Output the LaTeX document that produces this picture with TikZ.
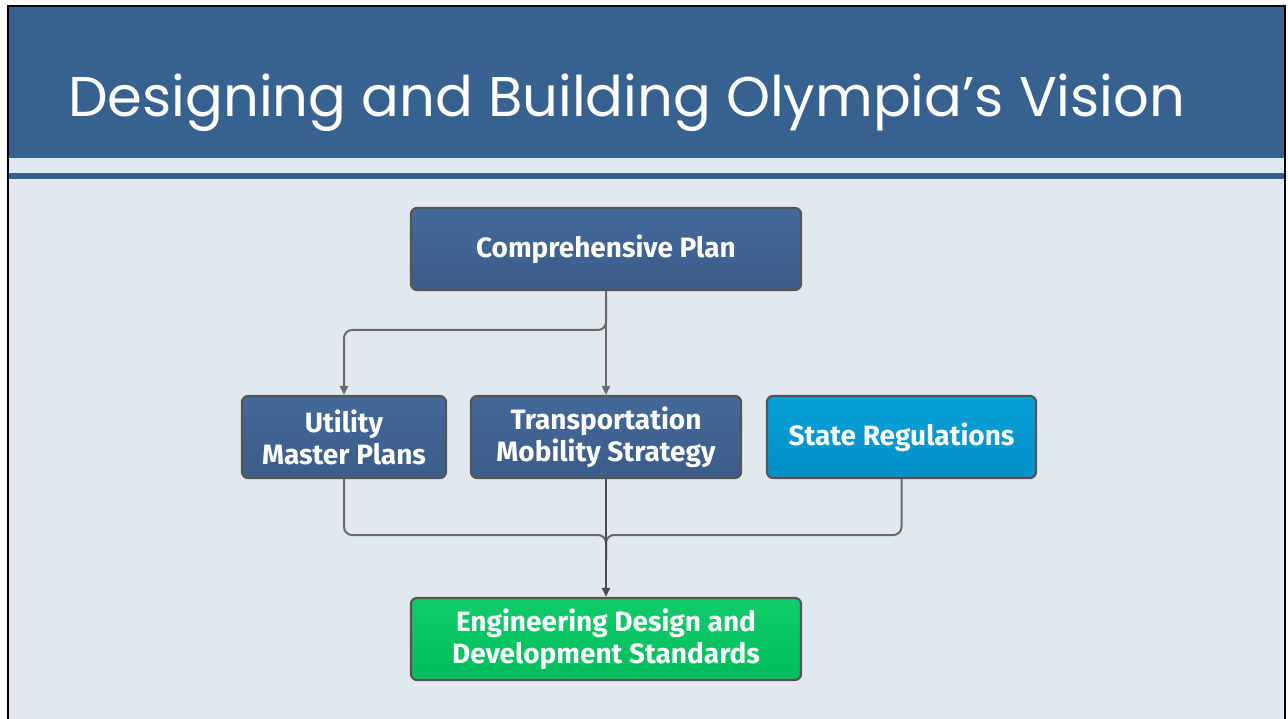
\documentclass[tikz,border=0pt]{standalone}
\usepackage{fontspec}
\setmainfont{Poppins}
\newfontfamily\boxfont{Fira Sans}
\usetikzlibrary{arrows.meta}
\definecolor{headblue}{HTML}{37628F}
\definecolor{pagegray}{HTML}{E1E8EF}
\definecolor{planblue}{HTML}{3B5D89}
\definecolor{planblueup}{HTML}{44689A}
\definecolor{statecyan}{HTML}{0090C6}
\definecolor{statecyanup}{HTML}{08A0D8}
\definecolor{stdgreen}{HTML}{00BE5C}
\definecolor{stdgreenup}{HTML}{10CC6A}
\definecolor{rimgray}{HTML}{555555}
\definecolor{linkgray}{HTML}{6A6A6A}
\tikzstyle{plan}=[draw=rimgray,line width=2.2pt,rounded corners=6pt,text=white,font=\boxfont\bfseries\fontsize{28}{32}\selectfont,align=center,inner sep=0pt,top color=planblueup,bottom color=planblue]
\tikzstyle{link} = [draw=linkgray,line width=2pt,rounded corners=8pt]
\tikzstyle{head} = [-{Triangle[length=9pt,width=8pt]}]

\begin{document}
\begin{tikzpicture}[x=1pt,y=-1pt]
    \useasboundingbox (0,0) rectangle (1288,719);
    % First we draw the slide frame and the header
    \fill[white] (0,0) rectangle (1288,719);
    \fill[pagegray] (8,6) rectangle (1285,719);
    \fill[headblue] (8,6) rectangle (1285,158);
    \fill[headblue] (8,173) rectangle (1285,179);
    \draw[black,line width=2.5pt] (8,724) -- (8,6) -- (1285,6) -- (1285,724);
    \node[anchor=base west,text=white,font=\fontsize{56}{64}\selectfont,inner sep=0pt] (title) at (68,117) {Designing and Building Olympia’s Vision};
    % Then the boxes
    \node[plan,minimum width=390pt,minimum height=82pt] (comp) at (606,249) {Comprehensive Plan};
    \node[plan,minimum width=204pt,minimum height=82pt] (util) at (344,437) {Utility\\Master Plans};
    \node[plan,minimum width=270pt,minimum height=82pt] (trans) at (606,437) {Transportation\\Mobility Strategy};
    \node[plan,minimum width=269pt,minimum height=82pt,top color=statecyanup,bottom color=statecyan] (state) at (901.5,437) {State Regulations};
    \node[plan,minimum width=390pt,minimum height=82pt,top color=stdgreenup,bottom color=stdgreen] (std) at (606,639) {Engineering Design and\\Development Standards};
    % Connect boxes with links
    \path[link,head] (comp.south) |- (344,330) -- (util.north);
    \path[link,head] (comp.south) -- (trans.north);
    \foreach \source in {util, state}
        \path[link] (\source.south) |- (606,535) -- (606,560);
    \path[link,head,draw=black!70,line width=2.4pt] (trans.south) -- (std.north);
\end{tikzpicture}
\end{document}
